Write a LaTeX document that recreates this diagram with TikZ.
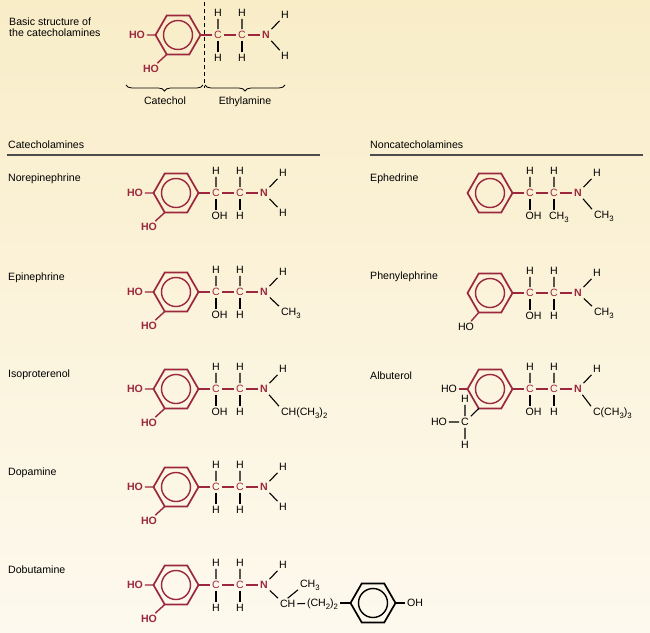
\documentclass[tikz,border=0pt]{standalone}
\usepackage{fontspec}
\setmainfont{Liberation Sans}
\usetikzlibrary{decorations.pathreplacing,calc}
\definecolor{maroon}{RGB}{155,40,62}
\definecolor{bgtop}{RGB}{249,237,200}
\definecolor{bgbot}{RGB}{253,249,238}
\newcommand\lowix[1]{\raisebox{-0.4ex}{\fontsize{7.8}{8}\selectfont #1}}
% ring: name, x, y(down), colour
\newcommand\benz[4]{%
  \coordinate (#1) at (#2,-#3);
  \draw[line width=1.7pt,#4,line join=miter] (#1) +(0:22.5) -- +(60:22.5) -- +(120:22.5) -- +(180:22.5) -- +(240:22.5) -- +(300:22.5) -- cycle;
  \draw[line width=1.4pt,#4] (#1) circle (14.5);
  \path (#1) +(0:22.5) coordinate (#1r) +(180:22.5) coordinate (#1l) +(240:22.5) coordinate (#1bl);}
% catechol ring with two HO
\newcommand\catechol[3]{%
  \benz{#1}{#2}{#3}{maroon}
  \node[ratom] (#1hoa) at (#2-41,-#3) {HO};
  \node[ratom] (#1hob) at (#2-27,-#3-34) {HO};
  \draw[rbond] (#1hoa) -- (#1l) (#1bl) -- (#1hob);}
% C-C-N chain with upper H atoms
\newcommand\chain[3]{%
  \node[rc] (#1ca) at (#2+40,-#3) {C};
  \node[rc] (#1cb) at (#2+64,-#3) {C};
  \node[ratom] (#1n) at (#2+88,-#3) {N};
  \node[atom] (#1ha) at (#2+40,-#3+22) {H};
  \node[atom] (#1hb) at (#2+64,-#3+22) {H};
  \node[atom] (#1nh) at (#2+107,-#3+20) {H};
  \draw[rbond] (#1r) -- (#1ca) -- (#1cb) -- (#1n);
  \draw[bond] (#1ca) -- (#1ha) (#1cb) -- (#1hb) (#1n) -- (#1nh);}
% lower OH on C1 and H on C2
\newcommand\ohh[3]{%
  \node[atom,anchor=west] (#1oh) at (#2+33.5,-#3-23) {OH};
  \node[atom] (#1hd) at (#2+64,-#3-23) {H};
  \draw[bond] (#1ca) -- (#1ca |- #1oh.north) (#1cb) -- (#1hd);}
\newcommand\hh[3]{%
  \node[atom] (#1hc) at (#2+40,-#3-23) {H};
  \node[atom] (#1hd) at (#2+64,-#3-23) {H};
  \draw[bond] (#1ca) -- (#1hc) (#1cb) -- (#1hd);}

\begin{document}
\begin{tikzpicture}[x=1pt,y=1pt,
 atom/.style={inner sep=1.8pt, text height=7.6pt, text depth=0pt, font=\fontsize{10.6}{12}\selectfont},
 rc/.style={atom, text=maroon},
 ratom/.style={atom, text=maroon, font=\fontsize{10.6}{12}\selectfont\bfseries},
 lbl/.style={inner sep=0pt, anchor=west, text height=7.6pt, text depth=0pt, font=\fontsize{10.6}{12}\selectfont},
 bond/.style={line width=1.1pt, draw=black},
 rbond/.style={line width=1.4pt, draw=maroon},
 rule/.style={line width=1.3pt, draw=black!70},
]
\fill[top color=bgtop,bottom color=bgbot] (0,0) rectangle (650,-632);
\useasboundingbox (0,0) rectangle (650,-632);

% ---------- basic structure ----------
\node[lbl] (basica) at (9,-22) {Basic structure of};
\node[lbl] (basicb) at (9,-33) {the catecholamines};
\catechol{bs}{178}{35}
\chain{bs}{178}{35}
\hh{bs}{178}{35}
\node[atom] (bsnh2) at (285,-56) {H};
\draw[bond] (bsn) -- (bsnh2);
\coordinate (dtop) at (204,-2);
\coordinate (dbot) at (204,-88);
\draw[line width=1pt,dash pattern=on 4pt off 3pt] (dtop) -- (dbot);
\draw[line width=0.8pt,decorate,decoration={brace,mirror,amplitude=6pt}] (126,-85) -- (203,-85);
\draw[line width=0.8pt,decorate,decoration={brace,mirror,amplitude=6pt}] (205,-85) -- (285,-85);
\node[atom] (catl) at (165,-101) {Catechol};
\node[atom] (ethl) at (245,-101) {Ethylamine};

% ---------- section headers ----------
\node[lbl] (hcat) at (8,-145) {Catecholamines};
\draw[rule] (7,-155) -- (320,-155);
\node[lbl] (hnon) at (370,-145) {Noncatecholamines};
\draw[rule] (370,-155) -- (643,-155);

% ---------- Norepinephrine ----------
\node[lbl] (lnor) at (8,-178) {Norepinephrine};
\catechol{no}{176}{193}
\chain{no}{176}{193}
\ohh{no}{176}{193}
\node[atom] (nonh2) at (283,-213) {H};
\draw[bond] (non) -- (nonh2);

% ---------- Epinephrine ----------
\node[lbl] (lepi) at (8,-277) {Epinephrine};
\catechol{ep}{176}{292}
\chain{ep}{176}{292}
\ohh{ep}{176}{292}
\node[atom,anchor=west] (epme) at (279,-312) {CH\lowix{3}};
\draw[bond] (epn) -- (epme.north west);

% ---------- Isoproterenol ----------
\node[lbl] (liso) at (8,-374) {Isoproterenol};
\catechol{is}{176}{389}
\chain{is}{176}{389}
\ohh{is}{176}{389}
\node[atom,anchor=west] (isme) at (279,-412) {CH(CH\lowix{3})\lowix{2}};
\draw[bond] (isn) -- (isme.north west);

% ---------- Dopamine ----------
\node[lbl] (ldop) at (8,-472) {Dopamine};
\catechol{dp}{176}{487}
\chain{dp}{176}{487}
\hh{dp}{176}{487}
\node[atom] (dpnh2) at (283,-507) {H};
\draw[bond] (dpn) -- (dpnh2);

% ---------- Dobutamine ----------
\node[lbl] (ldob) at (8,-570) {Dobutamine};
\catechol{db}{176}{585}
\chain{db}{176}{585}
\hh{db}{176}{585}
\node[atom,anchor=west] (dbch) at (278,-604) {CH};
\node[atom,anchor=west] (dbme) at (298,-584) {CH\lowix{3}};
\node[atom,anchor=west] (dbcc) at (305,-603) {(CH\lowix{2})\lowix{2}};
\draw[bond] (dbn) -- (dbch.north west);
\draw[bond] (dbch.north) -- (dbme.south west);
\draw[bond] (dbch) -- (dbcc);
\benz{dq}{373}{603}{black}
\node[atom] (dqoh) at (415,-603) {OH};
\draw[bond] (dbcc) -- (dql) (dqr) -- (dqoh);

% ---------- Ephedrine ----------
\node[lbl] (leph) at (370,-178) {Ephedrine};
\benz{ed}{490}{193}{maroon}
\chain{ed}{490}{193}
\node[atom,anchor=west] (edoh) at (523.5,-216) {OH};
\node[atom,anchor=west] (edme) at (547,-216) {CH\lowix{3}};
\draw[bond] (edca) -- (edca |- edoh.north) (edcb) -- (edcb |- edme.north);
\node[atom,anchor=west] (edmn) at (592,-215) {CH\lowix{3}};
\draw[bond] (edn) -- (edmn.north west);

% ---------- Phenylephrine ----------
\node[lbl] (lphe) at (370,-276) {Phenylephrine};
\benz{ph}{490}{293}{maroon}
\node[atom] (phho) at (466,-327) {HO};
\draw[rbond] (phbl) -- (phho);
\chain{ph}{490}{293}
\ohh{ph}{490}{293}
\node[atom,anchor=west] (phme) at (592,-312) {CH\lowix{3}};
\draw[bond] (phn) -- (phme.north west);

% ---------- Albuterol ----------
\node[lbl] (lalb) at (370,-376) {Albuterol};
\benz{al}{490}{389}{maroon}
\node[atom] (alho) at (449,-389) {HO};
\draw[rbond] (alho) -- (all);
\node[atom] (alc) at (465,-422) {C};
\node[atom] (alch) at (465,-399) {H};
\node[atom] (alcl) at (465,-445) {H};
\node[atom] (alco) at (439,-422) {HO};
\draw[bond] (alc) -- (alch) (alc) -- (alcl) (alco) -- (alc) (alc) -- (albl);
\chain{al}{490}{389}
\ohh{al}{490}{389}
\node[atom,anchor=west] (alme) at (591,-412) {C(CH\lowix{3})\lowix{3}};
\draw[bond] (aln) -- (alme.north west);
\end{tikzpicture}
\end{document}
